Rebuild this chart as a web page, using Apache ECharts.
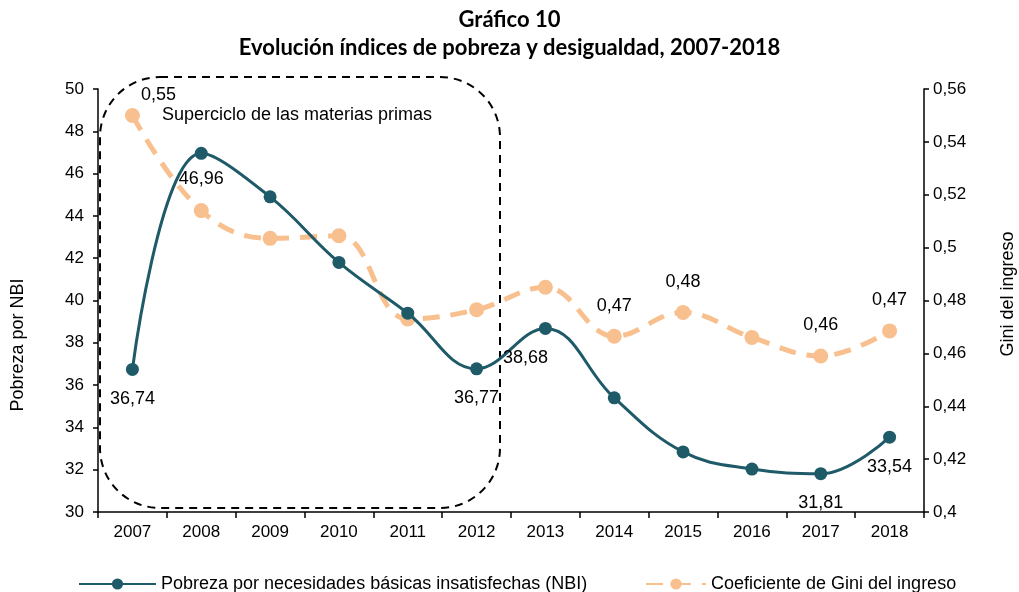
<!DOCTYPE html>
<html>
<head>
<meta charset="utf-8">
<script src="https://cdn.jsdelivr.net/npm/echarts@6/dist/echarts.min.js"></script>
<style>html,body{margin:0;padding:0;background:#fff}#c{width:1019px;height:592px}</style>
</head>
<body>
<div id="c"></div>
<script>
const years = ['2007','2008','2009','2010','2011','2012','2013','2014','2015','2016','2017','2018'];
const nbi = [36.74, 46.96, 44.9, 41.8, 39.4, 36.77, 38.68, 35.4, 32.84, 32.03, 31.81, 33.54];
const gini = [0.550, 0.514, 0.5035, 0.5045, 0.473, 0.4765, 0.485, 0.4665, 0.4755, 0.466, 0.459, 0.4685];
const nbiLabelIdx = [0, 1, 5, 6, 10, 11];
const giniLabelIdx = [0, 7, 8, 10, 11];
const leftTicks = {min: 30, max: 50, interval: 2};
const rightTicks = {min: 0.40, max: 0.56, interval: 0.02};

const NBI_C = '#1F5A69';
const GINI_C = '#F8C08E';
const FONT = 'Liberation Sans, Arial, sans-serif';
const fmt = v => String(+(+v).toFixed(2)).replace('.', ',');

const nbiData = nbi.map((v, i) => {
  const d = {value: v};
  if (nbiLabelIdx.includes(i)) {
    d.label = {show: true, position: 'bottom', distance: 14};
    if (i === 6) d.label.offset = [-20, 0];
    if (i === 1) d.label.distance = 10;
  }
  return d;
});
const giniData = gini.map((v, i) => {
  const d = {value: v};
  if (giniLabelIdx.includes(i)) {
    d.label = {show: true, position: 'top', distance: 14};
    if (i === 0) d.label.offset = [26, 10];
  }
  return d;
});

const chart = echarts.init(document.getElementById('c'));
chart.setOption({
  animation: false,
  title: {
    text: 'Gráfico 10\nEvolución índices de pobreza y desigualdad, 2007-2018',
    left: 'center', top: 1,
    textStyle: {fontFamily: 'Lato, Open Sans, sans-serif', fontWeight: 'bold', fontSize: 22, lineHeight: 28, color: '#000'}
  },
  grid: {left: 98, right: 95, top: 89, bottom: 80},
  legend: [
    {left: 73, top: 570, itemWidth: 77, itemHeight: 14, itemGap: 10, data: ['Pobreza por necesidades básicas insatisfechas (NBI)'],
     textStyle: {fontFamily: FONT, fontSize: 18, color: '#000'}},
    {left: 640, top: 570, itemWidth: 60, itemHeight: 14, data: ['Coeficiente de Gini del ingreso'],
     textStyle: {fontFamily: FONT, fontSize: 18, color: '#000'}}
  ],
  xAxis: {
    type: 'category', data: years, boundaryGap: true,
    axisLine: {lineStyle: {color: '#000', width: 1.5}},
    axisTick: {show: true, length: 6, lineStyle: {color: '#000', width: 1.5}},
    axisLabel: {fontFamily: FONT, fontSize: 17, color: '#000', margin: 12}
  },
  yAxis: [
    {type: 'value', min: leftTicks.min, max: leftTicks.max, interval: leftTicks.interval, position: 'left',
     axisLine: {show: true, lineStyle: {color: '#000', width: 1.5}},
     axisTick: {show: true, length: 5, lineStyle: {color: '#000', width: 1.5}},
     splitLine: {show: false},
     axisLabel: {fontFamily: FONT, fontSize: 17, color: '#000', margin: 14, formatter: fmt}},
    {type: 'value', min: rightTicks.min, max: rightTicks.max, interval: rightTicks.interval, position: 'right',
     axisLine: {show: true, lineStyle: {color: '#000', width: 1.5}},
     axisTick: {show: true, length: 5, lineStyle: {color: '#000', width: 1.5}},
     splitLine: {show: false},
     axisLabel: {fontFamily: FONT, fontSize: 17, color: '#000', margin: 9, formatter: fmt}}
  ],
  series: [
    {name: 'Coeficiente de Gini del ingreso', type: 'line', yAxisIndex: 1, data: giniData,
     smooth: 0.4, symbol: 'circle', symbolSize: 15,
     itemStyle: {color: GINI_C},
     lineStyle: {color: GINI_C, width: 5, type: [17, 11]},
     label: {fontFamily: FONT, fontSize: 18, color: '#000', formatter: p => fmt(p.value)},
     z: 2},
    {name: 'Pobreza por necesidades básicas insatisfechas (NBI)', type: 'line', yAxisIndex: 0, data: nbiData,
     smooth: 0.4, symbol: 'circle', symbolSize: 13,
     itemStyle: {color: NBI_C},
     lineStyle: {color: NBI_C, width: 3},
     label: {fontFamily: FONT, fontSize: 18, color: '#000', formatter: p => fmt(p.value)},
     z: 3}
  ],
  graphic: [
    {type: 'rect', shape: {x: 100, y: 77, width: 400, height: 431, r: 60},
     style: {fill: 'none', stroke: '#000', lineWidth: 2, lineDash: [8, 6]}, z: 1},
    {type: 'text', left: 162, top: 106,
     style: {text: 'Superciclo de las materias primas', font: '18px Liberation Sans, Arial, sans-serif', fill: '#000'}},
    {type: 'text', x: 18, y: 345, rotation: Math.PI / 2,
     style: {text: 'Pobreza por NBI', font: '18px Liberation Sans, Arial, sans-serif', fill: '#000', align: 'center', verticalAlign: 'middle'}},
    {type: 'text', x: 1008, y: 294, rotation: Math.PI / 2,
     style: {text: 'Gini del ingreso', font: '18px Liberation Sans, Arial, sans-serif', fill: '#000', align: 'center', verticalAlign: 'middle'}}
  ]
});
</script>
</body>
</html>
